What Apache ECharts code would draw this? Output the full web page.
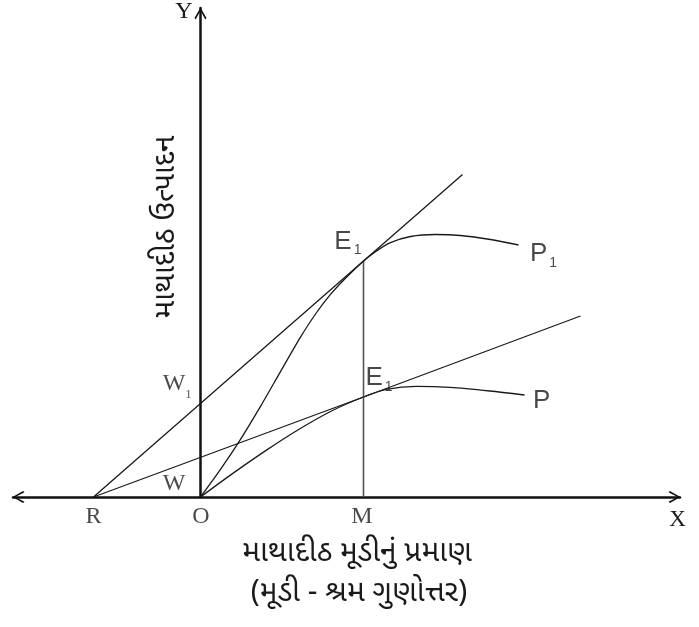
<!DOCTYPE html>
<html>
<head>
<meta charset="utf-8">
<script src="https://cdn.jsdelivr.net/npm/echarts@6/dist/echarts.min.js"></script>
<style>
  html, body { margin: 0; padding: 0; background: #fff; }
  #chart { width: 699px; height: 627px; }
</style>
</head>
<body>
<div id="chart"></div>
<script>
// Key points of the diagram (capital per worker, output per worker)
const pointR = [-107, 0];
const pointO = [0, 0];
const pointM = [163, 0];
const pointW = [0, 40];
const pointW1 = [0, 93];
const pointE1 = [163, 236];
const pointE = [163, 100];
const endP1 = [318, 252];
const endP = [324, 102];

// Production function after technical progress (P1)
const curveP1 = [[0, 0], [20, 27.6], [40, 57.6], [60, 90.6], [80, 125.4], [100, 159.8],
                 [115, 183], [130, 202.6], [145, 218.8], [163, 236], [175, 245.4],
                 [190, 254.4], [210, 260.5], [235, 262.5], [260, 261.5], [290, 257.5], [318, 252]];
// Original production function (P)
const curveP = [[0, 0], [33, 24.1], [66, 46.9], [99, 68], [132, 86.5], [163, 100],
                [186, 107.6], [216, 110.6], [249.5, 109.6], [289.5, 106], [324, 102]];
// Rays from R tangent to each curve
const rayUpper = [pointR, pointE1, [262, 322.5]];
const rayLower = [pointR, pointE, [380, 181]];
// Vertical from the tangency point down to M
const dropM = [pointM, pointE1];

// Axis extents
const xRange = [-187.5, 479.5];
const yRange = [0, 489];

// Texts
const xTitle1 = 'માથાદીઠ મૂડીનું પ્રમાણ';
const xTitle2 = '(મૂડી - શ્રમ ગુણોત્તર)';
const yTitle = 'માથાદીઠ ઉત્પાદન';

const serif = '"Liberation Serif","DejaVu Serif",serif';
const sans = '"Liberation Sans",Arial,sans-serif';
const guj = '"Noto Sans Gujarati","Lohit Gujarati","Noto Sans",sans-serif';
const ink = '#1a1a1a';

const chevron = 'path://M50,0 L100,88 L90,100 L50,24 L10,100 L0,88 Z';

const rich = {
  s:  { fontFamily: serif, fontSize: 24, lineHeight: 24, verticalAlign: 'top', color: ink },
  w:  { fontFamily: serif, fontSize: 24, lineHeight: 24, verticalAlign: 'top', color: ink },
  ws: { fontFamily: serif, fontSize: 12, lineHeight: 12, verticalAlign: 'top', color: ink, padding: [17, 0, 0, 0] },
  a:  { fontFamily: sans, fontSize: 26, lineHeight: 26, verticalAlign: 'top', color: ink },
  as: { fontFamily: sans, fontSize: 14, lineHeight: 14, verticalAlign: 'top', color: ink, padding: [15, 0, 0, 2] }
};

function tag(value, text, position, align, verticalAlign) {
  return {
    value: value,
    label: { show: true, formatter: text, position: position, align: align,
             verticalAlign: verticalAlign, rich: rich }
  };
}

const labelData = [
  tag(pointR, '{s|R}', [0.5, 20.5], 'center', 'middle'),
  tag(pointO, '{s|O}', [1, 20.5], 'center', 'middle'),
  tag(pointM, '{s|M}', [-1, 20.5], 'center', 'middle'),
  tag(pointW1, '{w|W}{ws|1}', [-8.5, -31.5], 'right', 'top'),
  tag(pointW, '{w|W}', [-14.5, 15], 'right', 'top'),
  tag(pointE1, '{a|E}{as|1}', [-1.5, -32], 'right', 'top'),
  tag(pointE, '{a|E}{as|1}', [2.5, -31.5], 'left', 'top'),
  tag(endP1, '{a|P}{as|1}', [12, -3.5], 'left', 'top'),
  tag(endP, '{a|P}', [9, -6.5], 'left', 'top')
];

const thin = { color: ink, width: 1.3 };

const chart = echarts.init(document.getElementById('chart'), null, { renderer: 'canvas' });
chart.setOption({
  backgroundColor: '#fff',
  animation: false,
  grid: { left: 13, right: 19, top: 8, bottom: 130 },
  xAxis: {
    type: 'value', min: xRange[0], max: xRange[1],
    axisLine: { show: true, onZero: true, lineStyle: { color: '#111', width: 2.5 },
                symbol: [chevron, chevron], symbolSize: [13, 12], symbolOffset: [5.5, -5.5] },
    axisTick: { show: false }, axisLabel: { show: false }, splitLine: { show: false }
  },
  yAxis: {
    type: 'value', min: yRange[0], max: yRange[1],
    axisLine: { show: true, onZero: true, lineStyle: { color: '#111', width: 2.5 },
                symbol: ['none', chevron], symbolSize: [13, 12], symbolOffset: [0, -5.5] },
    axisTick: { show: false }, axisLabel: { show: false }, splitLine: { show: false }
  },
  series: [
    { type: 'line', data: rayUpper, showSymbol: false, lineStyle: thin, silent: true },
    { type: 'line', data: rayLower, showSymbol: false, lineStyle: thin, silent: true },
    { type: 'line', data: dropM, showSymbol: false, lineStyle: { color: '#555', width: 1.6 }, silent: true },
    { type: 'line', data: curveP1, showSymbol: false, smooth: 0.25, lineStyle: thin, silent: true },
    { type: 'line', data: curveP, showSymbol: false, smooth: 0.25, lineStyle: thin, silent: true },
    { type: 'scatter', data: labelData, symbolSize: 1, itemStyle: { color: 'rgba(0,0,0,0)' }, silent: true, z: 5 }
  ],
  graphic: [
    { type: 'text', x: 184, y: 12, style: { text: 'Y', font: '24px ' + serif, fill: ink, align: 'center', verticalAlign: 'middle' } },
    { type: 'text', x: 677.5, y: 520, style: { text: 'X', font: '23px ' + serif, fill: ink, align: 'center', verticalAlign: 'middle' } },
    { type: 'text', x: 357, y: 555, style: { text: xTitle1, font: '30px ' + guj, fill: ink, align: 'center', verticalAlign: 'middle' } },
    { type: 'text', x: 359, y: 595, style: { text: xTitle2, font: '30px ' + guj, fill: ink, align: 'center', verticalAlign: 'middle' } },
    { type: 'text', x: 168.5, y: 227, rotation: Math.PI / 2,
      style: { text: yTitle, font: '30px ' + guj, fill: ink, align: 'center', verticalAlign: 'middle' } }
  ]
});
</script>
</body>
</html>
